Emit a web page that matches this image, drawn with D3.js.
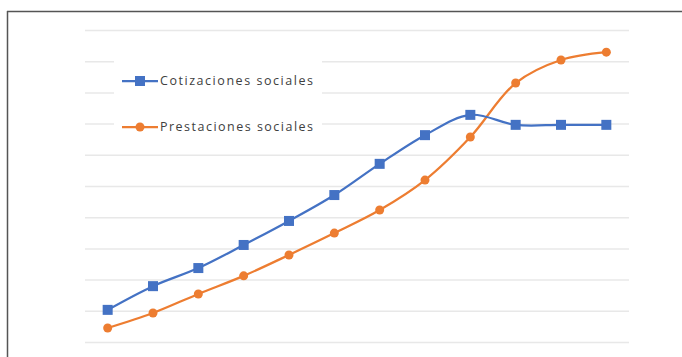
<!DOCTYPE html>
<meta charset="utf-8">
<script src="https://d3js.org/d3.v7.min.js"></script>
<style>
  body { margin: 0; background: #fff; }
  svg { display: block; font-family: "Open Sans", "DejaVu Sans", sans-serif; }
</style>
<div id="chart"></div>
<script>
  // categories (no labels shown on the original)
  var periods = [1, 2, 3, 4, 5, 6, 7, 8, 9, 10, 11, 12];
  var cotizaciones = [10.3, 17.9, 23.7, 31.1, 38.8, 47.1, 57.1, 66.3, 72.8, 69.6, 69.6, 69.6];
  var prestaciones = [4.5, 9.3, 15.4, 21.2, 27.9, 34.9, 42.3, 51.9, 65.7, 83.0, 90.4, 92.9];
  var seriesNames = ["Cotizaciones sociales", "Prestaciones sociales"];
  var yTicks = [0, 10, 20, 30, 40, 50, 60, 70, 80, 90, 100];

  var W = 682, H = 357;
  var margin = {top: 30, right: 53, bottom: 15, left: 85},
      width = W - margin.left - margin.right,
      height = H - margin.top - margin.bottom;

  var svg = d3.select("#chart").append("svg")
      .attr("width", W)
      .attr("height", H);

  // frame (top and left edges visible)
  svg.append("line").attr("x1", 7).attr("x2", W).attr("y1", 11.5).attr("y2", 11.5)
    .attr("stroke", "#555").attr("stroke-width", 1.5);
  svg.append("line").attr("x1", 7.5).attr("x2", 7.5).attr("y1", 11).attr("y2", H)
    .attr("stroke", "#555").attr("stroke-width", 1.5);

  var g = svg.append("g")
      .attr("transform", "translate(" + margin.left + "," + margin.top + ")");

  var x = d3.scaleBand()
    .domain(periods)
    .range([0, width]);

  var y = d3.scaleLinear()
    .domain([0, 100])
    .range([height, 0]);

  // gridlines
  g.append("g")
    .call(d3.axisLeft(y).tickValues(yTicks).tickSize(-width).tickFormat(""))
    .call(function(a) { a.select(".domain").remove(); })
    .selectAll("line")
      .attr("stroke", "#e8e8e8")
      .attr("stroke-width", 1.5);

  var cx = function(d, i) { return x(periods[i]) + x.bandwidth() / 2; };

  var line = d3.line()
    .x(cx)
    .y(function(d) { return y(d); })
    .curve(d3.curveCatmullRom.alpha(0.5));

  var blue = "#4472C4", orange = "#ED7D31";

  g.append("path").datum(prestaciones)
    .attr("fill", "none").attr("stroke", orange).attr("stroke-width", 2.25)
    .attr("d", line);
  g.append("path").datum(cotizaciones)
    .attr("fill", "none").attr("stroke", blue).attr("stroke-width", 2.25)
    .attr("d", line);

  g.selectAll(".dot").data(prestaciones).enter().append("circle")
    .attr("cx", cx).attr("cy", function(d) { return y(d); })
    .attr("r", 4.5).attr("fill", orange);

  g.selectAll(".sq").data(cotizaciones).enter().append("rect")
    .attr("x", function(d, i) { return cx(d, i) - 5; })
    .attr("y", function(d) { return y(d) - 5; })
    .attr("width", 10).attr("height", 10)
    .attr("fill", blue);

  // legend
  var legend = svg.append("g");
  legend.append("rect")
    .attr("x", 114).attr("y", 47).attr("width", 208).attr("height", 98)
    .attr("fill", "#fff");

  var legendY = [81, 127];
  var colors = [blue, orange];
  seriesNames.forEach(function(name, i) {
    var ly = legendY[i];
    legend.append("line")
      .attr("x1", 122).attr("x2", 158).attr("y1", ly).attr("y2", ly)
      .attr("stroke", colors[i]).attr("stroke-width", 2.25);
    if (i === 0) {
      legend.append("rect").attr("x", 135).attr("y", ly - 5)
        .attr("width", 10).attr("height", 10).attr("fill", blue);
    } else {
      legend.append("circle").attr("cx", 140).attr("cy", ly)
        .attr("r", 4.5).attr("fill", orange);
    }
    legend.append("text")
      .attr("x", 160).attr("y", ly)
      .attr("dy", "0.35em")
      .attr("font-size", "12.5px")
      .attr("fill", "#404040")
      .attr("textLength", 153)
      .attr("lengthAdjust", "spacing")
      .text(name);
  });
</script>
